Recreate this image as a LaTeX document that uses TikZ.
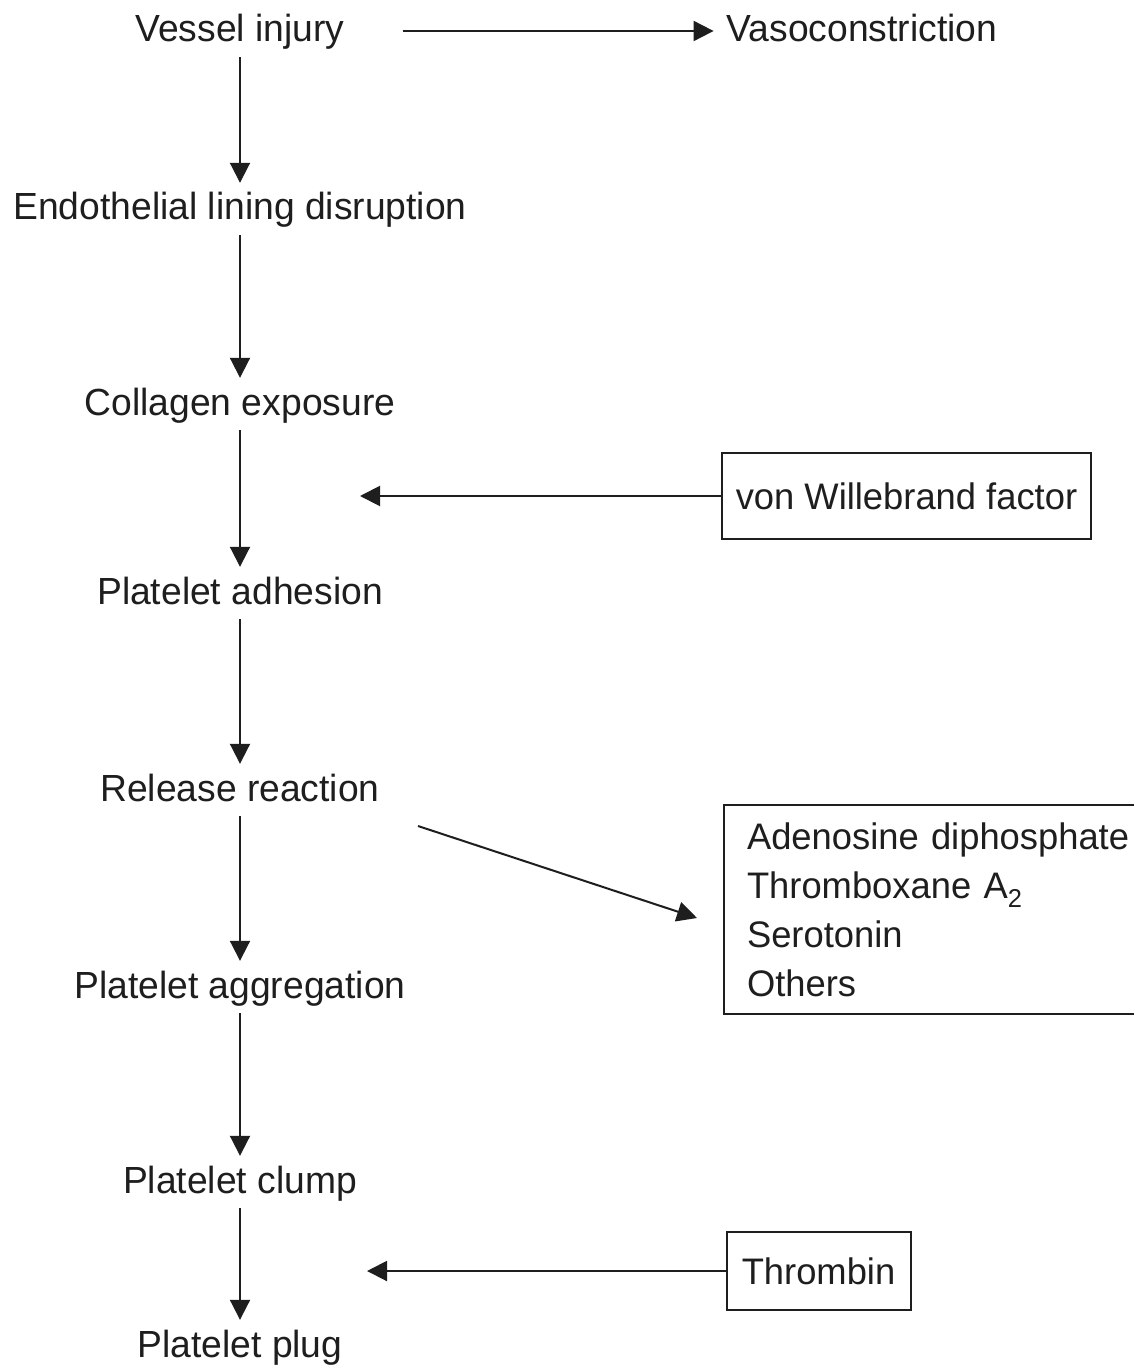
\documentclass[tikz,border=0pt]{standalone}
\usepackage{fontspec}
\setmainfont[FakeStretch=0.985]{Liberation Sans}
\usetikzlibrary{arrows.meta}
\definecolor{ink}{RGB}{30,30,30}
\begin{document}
\begin{tikzpicture}[x=1pt,y=-1pt,
  lbl/.style={font=\fontsize{37.8}{45}\selectfont, text=ink, inner sep=0pt, anchor=base, text height=37pt, text depth=15pt},
  conn/.style={line width=2pt, draw=ink, -{Triangle[length=20pt,width=20pt]}},
  boxn/.style={draw=ink, line width=2pt, text=ink, font=\fontsize{36.9}{49}\selectfont, inner sep=0pt}]
\useasboundingbox[fill=white] (0,0) rectangle (1133,1372);
% main column
\node[lbl] (vi)  at (240,42)   {Vessel injury};
\node[lbl] (vc)  at (862,42)   {Vasoconstriction};
\node[lbl] (eld) at (240,220)  {Endothelial lining disruption};
\node[lbl] (ce)  at (240,415)  {Collagen exposure};
\node[lbl] (pa)  at (240,604)  {Platelet adhesion};
\node[lbl] (rr)  at (240,801)  {Release reaction};
\node[lbl] (pag) at (240,998)  {Platelet aggregation};
\node[lbl] (pc)  at (240,1193) {Platelet clump};
\node[lbl] (pp)  at (240,1357) {Platelet plug};
% side boxes
\node[boxn, minimum width=369pt, minimum height=86pt] (vwf) at (906.5,496) {von Willebrand factor};
\node[boxn, minimum width=184pt, minimum height=78pt] (thr) at (818.5,1271) {Thrombin};
\node[boxn, anchor=north west, minimum height=209pt, text width=400pt, inner xsep=23pt, align=left] (adp) at (723,804)
  {Adenosine diphosphate\\Thromboxane A\textsubscript{2}\\Serotonin\\Others};
% free ends
\coordinate (vwfend) at (360,496);
\coordinate (thrend) at (367,1271);
\coordinate (relout) at (418,826);
\coordinate (adpin)  at (697,918);
% connectors
\draw[conn, shorten >=13pt] ([xshift=58pt]vi.east) -- (vc.west);
\draw[conn] (vi.south)  -- (eld.north);
\draw[conn] (eld.south) -- (ce.north);
\draw[conn] (ce.south)  -- (pa.north);
\draw[conn] (pa.south)  -- (rr.north);
\draw[conn] (rr.south)  -- (pag.north);
\draw[conn] (pag.south) -- (pc.north);
\draw[conn] (pc.south)  -- (pp.north);
\draw[conn] (vwf.west) -- (vwfend);
\draw[conn] (thr.west) -- (thrend);
\draw[conn] (relout) -- (adpin);
\end{tikzpicture}
\end{document}
